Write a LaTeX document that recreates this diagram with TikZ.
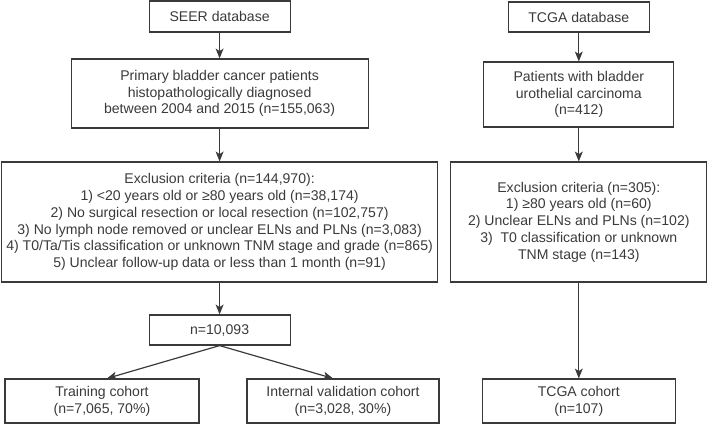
\documentclass[tikz,border=0pt]{standalone}
\usepackage{fontspec}
\setmainfont{Liberation Sans}
\usepackage{tikz}
\usetikzlibrary{arrows.meta,positioning}

\definecolor{inkgray}{HTML}{3A3A3A}

\tikzset{
    box/.style={draw=inkgray, line width=0.85pt, text=inkgray, align=center,
        inner sep=0pt, font=\fontsize{10}{11.9}\selectfont},
    link/.style={->, draw=inkgray, line width=0.85pt},
}

\begin{document}
\begin{tikzpicture}[>={Stealth[length=7pt,width=5.6pt,inset=1.8pt]}]
    \useasboundingbox (0,0) rectangle (17.725,-10.6);

    % SEER branch
    \node [box, minimum width=3.525cm, minimum height=0.775cm] (seer) at (5.49,-0.4125) {SEER database};
    \node [box, minimum width=7.425cm, minimum height=1.725cm] (prim) [below of=seer, node distance=1.925cm]
        {Primary bladder cancer patients\\histopathologically diagnosed\\between 2004 and 2015 (n=155,063)};
    \node [box, minimum width=10.9cm, minimum height=3cm]      (excl) [below of=prim, node distance=3.2125cm]
        {Exclusion criteria (n=144,970):\\
         1) <20 years old or ≥80 years old (n=38,174)\\
         2) No surgical resection or local resection (n=102,757)\\
         3) No lymph node removed or unclear ELNs and PLNs (n=3,083)\\
         4) T0/Ta/Tis classification or unknown TNM stage and grade (n=865)\\
         5) Unclear follow-up data or less than 1 month (n=91)};
    \node [box, minimum width=3.525cm, minimum height=0.75cm]  (total) [below of=excl, node distance=2.7cm] {n=10,093};
    \node [box, minimum width=4.85cm, minimum height=1.1cm]    (train) at (2.55,-10.025) {Training cohort\\(n=7,065, 70\%)};
    \node [box, minimum width=4.8cm, minimum height=1.1cm]     (inval) at (8.575,-10.025) {Internal validation cohort\\(n=3,028, 30\%)};

    % TCGA branch
    \node [box, minimum width=3.525cm, minimum height=0.75cm]  (tcga) at (14.47,-0.425) {TCGA database};
    \node [box, minimum width=4.75cm, minimum height=1.625cm]  (pat) [below of=tcga, node distance=1.9375cm]
        {Patients with bladder\\urothelial carcinoma\\(n=412)};
    \node [box, minimum width=6.4cm, minimum height=3cm]       (texcl) [below of=pat, node distance=3.1875cm]
        {Exclusion criteria (n=305):\\
         1) ≥80 years old (n=60)\\
         2) Unclear ELNs and PLNs (n=102)\\
         3)\ \ T0 classification or unknown\\
         TNM stage (n=143)};
    \node [box, minimum width=4.825cm, minimum height=1.1cm]   (tcoh) [below of=texcl, node distance=4.475cm] {TCGA cohort\\(n=107)};

    % Arrows
    \draw [link] (seer)  -- (prim);
    \draw [link] (prim)  -- (excl);
    \draw [link] (excl)  -- (total);
    \draw [link] (total.south) -- ([xshift=0.125cm]train.north);
    \draw [link] (total.south) -- ([xshift=-0.25cm]inval.north);
    \draw [link] (tcga)  -- (pat);
    \draw [link] (pat)   -- (texcl);
    \draw [link] (texcl) -- (tcoh);
\end{tikzpicture}
\end{document}
